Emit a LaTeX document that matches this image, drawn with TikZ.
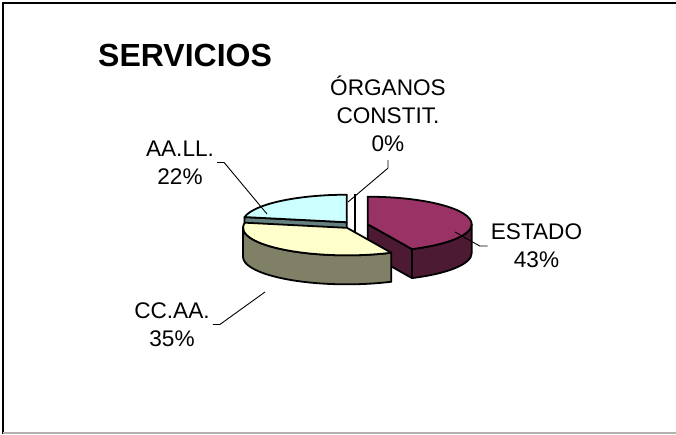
\documentclass[tikz,border=0pt]{standalone}
\usepackage{fontspec}
\setmainfont{Liberation Sans}

\definecolor{estadotop}{RGB}{153,51,102}
\definecolor{estadoside}{RGB}{77,26,51}
\definecolor{ccaatop}{RGB}{255,255,204}
\definecolor{ccaaside}{RGB}{128,128,102}
\definecolor{aalltop}{RGB}{204,255,255}
\definecolor{aallside}{RGB}{102,128,128}

\tikzset{
  slice/.style={draw=black, line width=1.8pt, line join=round},
  lbl/.style={align=center, inner sep=3pt, font=\fontsize{22.6}{28}\selectfont},
  leader/.style={line width=0.9pt},
}

\begin{document}
\begin{tikzpicture}[x=1pt,y=1pt]

\newcommand\RX{104pt}
\newcommand\RY{27.5pt}
\newcommand\DZ{29pt}

\useasboundingbox (0,0) rectangle (676,434);
\draw[line width=2pt] (3,0) -- (3,431) -- (676,431); %% frame
\draw[black!30, line width=1.2pt] (3,1) -- (676,1);

\coordinate (c0) at (355,209);
\coordinate (cE) at ([shift={(12.6:13pt and 3.6pt)}]c0);
\coordinate (cC) at ([shift={(-127.8:13pt and 3.6pt)}]c0);
\coordinate (cA) at ([shift={(129.6:13pt and 3.6pt)}]c0);
\coordinate (cO) at ([shift={(90:13pt and 3.6pt)}]c0);

%% AA.LL. (back)
\draw[slice, fill=aallside] (cA) -- ++(169.2:\RX\space and \RY) -- ++(0,-\DZ)
  -- ++(-10.8:\RX\space and \RY) -- cycle;
\draw[slice, fill=aalltop] (cA) -- ++(90:\RX\space and \RY)
  arc[start angle=90, end angle=169.2, x radius=\RX, y radius=\RY] -- cycle;

%% organos, 0%
\draw[slice] (cO) -- ++(90:\RX\space and \RY) (cO) -- ++(0,-\DZ);

%% ESTADO
\draw[slice, fill=estadoside] (cE) -- ++(-64.8:\RX\space and \RY) -- ++(0,-\DZ)
  -- ++(115.2:\RX\space and \RY) -- cycle;
\draw[slice, fill=estadoside] (cE) ++(0:\RX\space and \RY)
  arc[start angle=0, end angle=-64.8, x radius=\RX, y radius=\RY] -- ++(0,-\DZ)
  arc[start angle=-64.8, end angle=0, x radius=\RX, y radius=\RY] -- cycle;
\draw[slice, fill=estadotop] (cE) -- ++(90:\RX\space and \RY)
  arc[start angle=90, end angle=-64.8, x radius=\RX, y radius=\RY] -- cycle;

%% CC.AA. (front)
\draw[slice, fill=ccaaside] (cC) ++(-64.8:\RX\space and \RY)
  arc[start angle=-64.8, end angle=-180, x radius=\RX, y radius=\RY] -- ++(0,-\DZ)
  arc[start angle=-180, end angle=-64.8, x radius=\RX, y radius=\RY] -- cycle;
\draw[slice, fill=ccaatop] (cC) -- ++(-64.8:\RX\space and \RY)
  arc[start angle=-64.8, end angle=-190.8, x radius=\RX, y radius=\RY] -- cycle;

\node[anchor=west, inner sep=0, font=\bfseries\fontsize{32}{38}\selectfont]
  (title) at (98,379) {SERVICIOS};
\node[lbl] (organos) at (388,320) {ÓRGANOS\\CONSTIT.\\0\%};
\node[lbl] (aall) at (180,271.5) {AA.LL.\\22\%};
\node[lbl] (estado) at (536.5,188) {ESTADO\\43\%};
\node[lbl] (ccaa) at (172,109.5) {CC.AA.\\35\%};

\coordinate (pA) at (267,220);
\coordinate (pO) at (348,232);
\coordinate (pE) at (455,202);
\coordinate (pC) at (265,142);
\draw[leader] (aall.east) -- ++(7,0) -- (pA);
\draw[leader] ([yshift=-5pt]organos.south) -- ++(0,-8) -- (pO);
\draw[leader] (estado.west) -- ++(-8,0) -- (pE);
\draw[leader] (ccaa.east) -- ++(7,0) -- (pC);

\end{tikzpicture}
\end{document}
